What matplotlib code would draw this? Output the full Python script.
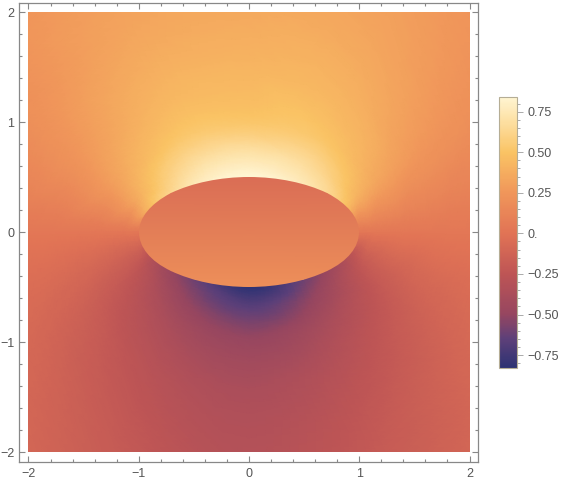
import numpy as np
import matplotlib
matplotlib.use('Agg')
import matplotlib.pyplot as plt
import matplotlib.tri as mtri
from matplotlib.colors import LinearSegmentedColormap, Normalize
from matplotlib.patches import Ellipse, Rectangle
from matplotlib.ticker import MultipleLocator, FixedLocator

plt.rcParams['font.family'] = ['Liberation Sans', 'DejaVu Sans']

# colour scale (value -> colour)
cmap_values = [-0.83, -0.65, -0.5, -0.25, 0.0, 0.25, 0.5, 0.84]
cmap_colors = ['#2d3273', '#5e4079', '#964660', '#be5555', '#e17355',
               '#f0965a', '#fac364', '#fff5d2']

# sample rings around the ellipse (semi axes) and angles on the right half
ring_a = [1.0, 1.15, 1.4, 1.8, 2.4, 3.2]
ring_b = [0.5, 0.7, 1.0, 1.5, 2.2, 3.2]
angles_deg = [-90, -60, -30, 0, 30, 60, 90]

# field values, one row per ring, one column per angle
field_vals = [
    [-0.82, -0.60, -0.33, 0.03, 0.50, 0.75, 0.85],
    [-0.65, -0.50, -0.25, 0.03, 0.40, 0.65, 0.72],
    [-0.48, -0.38, -0.20, 0.03, 0.32, 0.50, 0.52],
    [-0.36, -0.28, -0.14, 0.03, 0.25, 0.40, 0.42],
    [-0.30, -0.20, -0.08, 0.03, 0.20, 0.32, 0.34],
    [-0.25, -0.13, -0.03, 0.03, 0.17, 0.26, 0.28],
]

# inside the ellipse: value at bottom and top edge
inner_y = [-0.5, 0.5]
inner_vals = [0.20, -0.05]

xticks = [-2, -1, 0, 1, 2]
cbar_ticks = [-0.75, -0.5, -0.25, 0.0, 0.25, 0.5, 0.75]
cbar_labels = ['\u22120.75', '\u22120.50', '\u22120.25', '0.', '0.25', '0.50', '0.75']

vmin, vmax = cmap_values[0], cmap_values[-1]
pos = [(v - vmin) / (vmax - vmin) for v in cmap_values]
cmap = LinearSegmentedColormap.from_list('m10', list(zip(pos, cmap_colors)))
norm = Normalize(vmin=vmin, vmax=vmax, clip=True)

# full circle of angles: right half as read, left half mirrored
full_angles = list(angles_deg) + [180 - a for a in angles_deg[-2:0:-1]]
n_ang = len(full_angles)
px, py, pz = [], [], []
for i in range(len(ring_a)):
    for a in full_angles:
        t = np.deg2rad(a)
        src = a if a <= 90 else 180 - a
        px.append(ring_a[i] * np.cos(t))
        py.append(ring_b[i] * np.sin(t))
        pz.append(field_vals[i][angles_deg.index(src)])
px, py, pz = np.array(px), np.array(py), np.array(pz)

tris = []
for i in range(len(ring_a) - 1):
    for j in range(n_ang):
        p00 = i * n_ang + j
        p01 = i * n_ang + (j + 1) % n_ang
        p10 = (i + 1) * n_ang + j
        p11 = (i + 1) * n_ang + (j + 1) % n_ang
        tris.append([p00, p10, p11])
        tris.append([p00, p11, p01])
tri = mtri.Triangulation(px, py, np.array(tris))
interp = mtri.CubicTriInterpolator(tri, pz, kind='geom')
tri_f, z_f = mtri.UniformTriRefiner(tri).refine_field(pz, triinterpolator=interp, subdiv=4)

fig = plt.figure(figsize=(5.69, 4.83), dpi=100)
ax = fig.add_axes([0.0334, 0.0445, 0.8067, 0.949])

tp = ax.tripcolor(tri_f, z_f, shading='gouraud', cmap=cmap, norm=norm)
square = Rectangle((-2, -2), 4, 4, transform=ax.transData)
tp.set_clip_path(square)

ell = Ellipse((0, 0), 2, 1, transform=ax.transData)
inner = ax.pcolormesh([-1, 1], inner_y, np.array([[inner_vals[0]] * 2, [inner_vals[1]] * 2]),
                      shading='gouraud', cmap=cmap, norm=norm)
inner.set_clip_path(ell)

ax.set_xlim(-2.086, 2.077)
ax.set_ylim(-2.086, 2.082)
ax.set_xticks(xticks)
ax.set_yticks(xticks)
ax.set_xticklabels([str(v).replace('-', '\u2212') for v in xticks])
ax.set_yticklabels([str(v).replace('-', '\u2212') for v in xticks])
ax.xaxis.set_minor_locator(MultipleLocator(0.2))
ax.yaxis.set_minor_locator(MultipleLocator(0.2))
ax.tick_params(which='both', direction='in', top=True, right=True, color='#888888',
               labelcolor='#555555', labelsize=9, width=0.8)
ax.tick_params(which='major', length=4)
ax.tick_params(which='minor', length=2.2)
ax.tick_params(axis='x', pad=5)
for s in ax.spines.values():
    s.set_color('#888888')
    s.set_linewidth(0.9)

cax = fig.add_axes([0.877, 0.238, 0.0316, 0.561])
sm = plt.cm.ScalarMappable(norm=norm, cmap=cmap)
cb = fig.colorbar(sm, cax=cax)
cb.set_ticks(cbar_ticks)
cb.set_ticklabels(cbar_labels)
cb.ax.yaxis.set_minor_locator(FixedLocator(np.arange(-0.8, 0.85, 0.05)))
cb.ax.tick_params(which='both', direction='out', color='#aaaaaa', labelcolor='#555555',
                  labelsize=9, width=0.7)
cb.ax.tick_params(which='major', length=4)
cb.ax.tick_params(which='minor', length=2.2)
cb.outline.set_edgecolor('#b5ad95')
cb.outline.set_linewidth(0.8)

fig.savefig('out.png', dpi=100)
